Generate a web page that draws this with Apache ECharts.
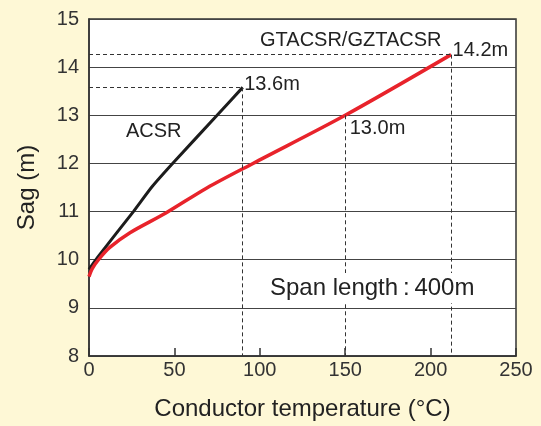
<!DOCTYPE html>
<html>
<head>
<meta charset="utf-8">
<script src="https://cdn.jsdelivr.net/npm/echarts@6/dist/echarts.min.js"></script>
<style>
  html, body { margin: 0; padding: 0; background: #fef8d6; }
  #sagchart { width: 541px; height: 426px; }
</style>
</head>
<body>
<div id="sagchart"></div>
<script>
// sag vs conductor temperature, span length 400m
var acsrTemp = [0, 5, 26, 37, 50, 75, 90]
var acsrSag = [9.8, 10.05, 11, 11.52, 12.04, 13, 13.58]
var gtTemp = [0, 2, 6, 12, 24, 45, 69, 96, 150, 212]
var gtSag = [9.65, 9.82, 10.02, 10.25, 10.56, 10.97, 11.49, 12.0, 13.0, 14.26]
var xTicks = [0, 50, 100, 150, 200, 250]
var yTicks = [8, 9, 10, 11, 12, 13, 14, 15]
var acsrEndText = '13.6m'
var gtMidText = '13.0m'
var gtEndText = '14.2m'

var FONT = "'Liberation Sans', Arial, sans-serif"

function zip(xs, ys) {
  var out = []
  for (var i = 0; i < xs.length; i++) out.push([xs[i], ys[i]])
  return out
}

var acsrData = zip(acsrTemp, acsrSag)
var gtData = zip(gtTemp, gtSag)
var acsrEnd = acsrData[acsrData.length - 1]
var gtEnd = gtData[gtData.length - 1]
var gtMid = gtData[gtTemp.indexOf(150)]
var yMin = yTicks[0]

// dashed guides: from y axis to the point, then down to x axis
function guides(pt, withHorizontal) {
  var arr = []
  if (withHorizontal) arr.push([{coord: [xTicks[0], pt[1]]}, {coord: [pt[0], pt[1]]}])
  arr.push([{coord: [pt[0], pt[1]]}, {coord: [pt[0], yMin]}])
  return arr
}

function endLabel(pt, text, offset) {
  return {
    coord: pt,
    symbol: 'circle',
    symbolSize: 1,
    itemStyle: {color: 'rgba(0,0,0,0)'},
    label: {
      show: true,
      position: 'right',
      distance: 0,
      offset: offset,
      formatter: text,
      fontFamily: FONT,
      fontSize: 20,
      color: '#222'
    }
  }
}

var guideStyle = {
  silent: true,
  symbol: ['none', 'none'],
  label: {show: false},
  lineStyle: {color: '#333', width: 1, type: [4, 3]},
  emphasis: {disabled: true}
}

var chart = echarts.init(document.getElementById('sagchart'))
chart.setOption({
  backgroundColor: '#fef8d6',
  animation: false,
  grid: {
    left: 89, right: 25, top: 19, bottom: 67,
    show: true,
    backgroundColor: '#fff',
    borderColor: '#333',
    borderWidth: 1.5
  },
  xAxis: {
    type: 'value',
    min: xTicks[0],
    max: xTicks[xTicks.length - 1],
    interval: 50,
    name: 'Conductor temperature (°C)',
    nameLocation: 'middle',
    nameGap: 41,
    nameTextStyle: {fontFamily: FONT, fontSize: 24, color: '#222'},
    axisLine: {show: true, lineStyle: {color: '#333', width: 1.5}},
    axisTick: {show: true, inside: true, length: 8, lineStyle: {color: '#333', width: 1.5}},
    axisLabel: {fontFamily: FONT, fontSize: 20, color: '#333', margin: 4},
    splitLine: {show: false}
  },
  yAxis: {
    type: 'value',
    min: yMin,
    max: yTicks[yTicks.length - 1],
    interval: 1,
    name: 'Sag (m)',
    nameLocation: 'middle',
    nameRotate: 90,
    nameGap: 50,
    nameTextStyle: {fontFamily: FONT, fontSize: 24, color: '#222'},
    axisLine: {show: true, lineStyle: {color: '#333', width: 1.5}},
    axisTick: {show: false},
    axisLabel: {fontFamily: FONT, fontSize: 20, color: '#333', margin: 10},
    splitLine: {show: true, lineStyle: {color: '#444', width: 1}}
  },
  series: [
    {
      name: 'ACSR',
      type: 'line',
      data: acsrData,
      smooth: 0.2,
      showSymbol: false,
      lineStyle: {color: '#1c1c1c', width: 3},
      markLine: Object.assign({data: guides(acsrEnd, true)}, guideStyle),
      markPoint: {silent: true, data: [endLabel(acsrEnd, acsrEndText, [1, -3])]}
    },
    {
      name: 'GTACSR/GZTACSR',
      type: 'line',
      data: gtData,
      smooth: 0.3,
      showSymbol: false,
      lineStyle: {color: '#e8232b', width: 3.5},
      markLine: Object.assign({data: guides(gtEnd, true).concat(guides(gtMid, false))}, guideStyle),
      markPoint: {
        silent: true,
        data: [
          endLabel(gtEnd, gtEndText, [1, -4]),
          endLabel(gtMid, gtMidText, [4, 13])
        ]
      }
    }
  ],
  graphic: [
    {
      type: 'text', left: 126, top: 121, z: 50,
      style: {text: 'ACSR', fontFamily: FONT, fontSize: 20, fill: '#222'}
    },
    {
      type: 'text', left: 260, top: 30, z: 50,
      style: {text: 'GTACSR/GZTACSR', fontFamily: FONT, fontSize: 20, fill: '#222'}
    },
    {
      type: 'text', left: 264, top: 273, z: 100,
      style: {
        text: 'Span length\u2009:\u2009400m',
        fontFamily: FONT, fontSize: 24, fill: '#222',
        backgroundColor: '#fff', padding: [3, 6, 3, 6]
      }
    }
  ]
})
</script>
</body>
</html>
